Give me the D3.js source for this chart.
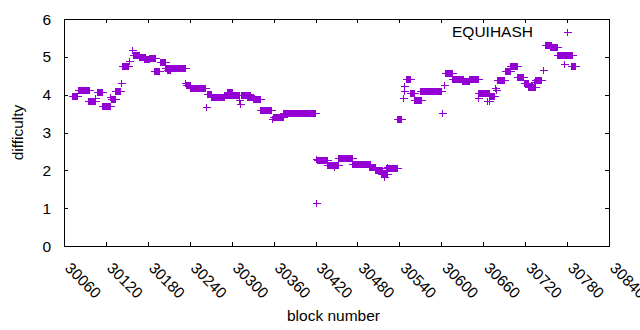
<!DOCTYPE html>
<html><head><meta charset="utf-8">
<script src="https://cdn.jsdelivr.net/npm/d3@7"></script>
<style>body{margin:0;background:#fff}svg{display:block}text{font-family:"Liberation Sans",Arial,sans-serif}</style>
</head><body>
<script>
// Run-length encoded difficulty readings: block range [start, end] with constant difficulty
const runStart = [30071,30080,30095,30104,30107,30115,30126,30127,30133,30141,30143,30153,30157,30159,30168,30175,30181,30189,30197,30204,30207,30233,30234,30240,30263,30264,30271,30289,30293,30310,30312,30313,30322,30330,30340,30357,30359,30373,30420,30421,30422,30437,30446,30452,30472,30496,30505,30513,30518,30522,30521,30537,30545,30546,30547,30549,30555,30561,30570,30601,30604,30605,30615,30630,30640,30653,30653,30666,30668,30668,30677,30678,30680,30691,30698,30709,30718,30724,30733,30734,30746,30748,30755,30766,30776,30786];
const runEnd   = [30078,30096,30105,30104,30115,30126,30126,30133,30140,30141,30152,30153,30157,30168,30176,30181,30190,30196,30204,30233,30211,30233,30240,30262,30263,30271,30289,30310,30300,30310,30312,30326,30330,30340,30356,30357,30373,30419,30420,30421,30437,30452,30446,30472,30498,30505,30515,30522,30518,30522,30537,30543,30545,30546,30547,30555,30561,30571,30600,30601,30604,30616,30631,30640,30652,30653,30668,30666,30676,30668,30677,30678,30690,30698,30709,30717,30724,30734,30733,30742,30746,30757,30765,30787,30776,30792];
const runValue = [3.96,4.12,3.83,3.91,4.08,3.70,3.94,3.89,4.10,4.31,4.76,4.88,5.19,5.04,5.00,4.93,4.96,4.63,4.86,4.71,4.66,4.31,4.26,4.17,3.67,4.03,3.94,3.99,4.07,3.87,3.76,4.00,3.94,3.89,3.59,3.37,3.42,3.51,2.30,1.13,2.28,2.15,2.08,2.32,2.16,2.10,2.01,1.90,1.83,2.10,2.06,3.36,3.91,4.11,4.24,4.41,4.04,3.86,4.10,3.51,4.26,4.57,4.41,4.35,4.41,3.91,4.04,3.82,3.97,3.84,4.18,4.12,4.38,4.63,4.77,4.47,4.30,4.20,4.33,4.40,4.66,5.31,5.26,5.05,4.82,4.77];
const xTicks = [30060,30120,30180,30240,30300,30360,30420,30480,30540,30600,30660,30720,30780,30840];
const yTicks = [0,1,2,3,4,5,6];
const seriesName = "EQUIHASH";
const xTitle = "block number";
const yTitle = "difficulty";

const W = 640, H = 330;
const m = {l:64, r:609, t:19, b:246};
const color = "#9400d3";

const points = [];
runStart.forEach((s,i) => { for (let b = s; b <= runEnd[i]; b++) points.push({block:b, value:runValue[i]}); });

const svg = d3.select("body").append("svg").attr("width",W).attr("height",H);
const x = d3.scaleLinear().domain([30060,30840]).range([m.l,m.r]);
const y = d3.scaleLinear().domain([0,6]).range([m.b,m.t]);

const fs = 15.5;
const tl = 4;

// ticks inward (mirrored)
const g = svg.append("g").attr("stroke","#000").attr("stroke-width",1).attr("shape-rendering","crispEdges");
xTicks.forEach(v => {
  const px = Math.round(x(v))+0.5;
  g.append("line").attr("x1",px).attr("x2",px).attr("y1",m.b).attr("y2",m.b-tl);
  g.append("line").attr("x1",px).attr("x2",px).attr("y1",m.t).attr("y2",m.t+tl);
});
yTicks.forEach(v => {
  const py = Math.round(y(v))+0.5;
  g.append("line").attr("x1",m.l).attr("x2",m.l+tl).attr("y1",py).attr("y2",py);
  g.append("line").attr("x1",m.r).attr("x2",m.r-tl).attr("y1",py).attr("y2",py);
});
g.append("rect").attr("x",m.l+0.5).attr("y",m.t+0.5).attr("width",m.r-m.l).attr("height",m.b-m.t).attr("fill","none");

// tick labels
svg.append("g").selectAll("text").data(yTicks).join("text")
  .attr("x", m.l-13).attr("y", d => y(d)).attr("dy","0.36em")
  .attr("text-anchor","end").attr("font-size",fs).attr("fill","#000").text(d => d);
svg.append("g").selectAll("text").data(xTicks).join("text")
  .attr("transform", d => `translate(${x(d)+4},${m.b+19}) rotate(45)`)
  .attr("dy","0.36em").attr("text-anchor","start").attr("font-size",fs).attr("fill","#000").text(d => d);

// axis titles
svg.append("text").attr("transform",`translate(23,${(m.t+m.b)/2}) rotate(-90)`)
  .attr("text-anchor","middle").attr("font-size",fs).text(yTitle);
svg.append("text").attr("x",(m.l+m.r)/2-3).attr("y",321)
  .attr("text-anchor","middle").attr("font-size",fs).text(xTitle);

// points
const hx = 4, hy = 3.5;
const plus = (px,py) => `M${px-hx},${py}H${px+hx}M${px},${py-hy}V${py+hy}`;
svg.append("path")
  .attr("d", points.map(p => plus(Math.round(x(p.block))+0.5, Math.round(y(p.value))+0.5)).join(""))
  .attr("fill","none").attr("stroke",color).attr("stroke-width",1).attr("shape-rendering","crispEdges");

// legend
svg.append("text").attr("x",533).attr("y",31).attr("dy","0.36em").attr("text-anchor","end")
  .attr("font-size",fs).text(seriesName);
svg.append("path").attr("d", plus(567.5,32.5)).attr("stroke",color).attr("fill","none").attr("shape-rendering","crispEdges");
</script>
</body></html>
